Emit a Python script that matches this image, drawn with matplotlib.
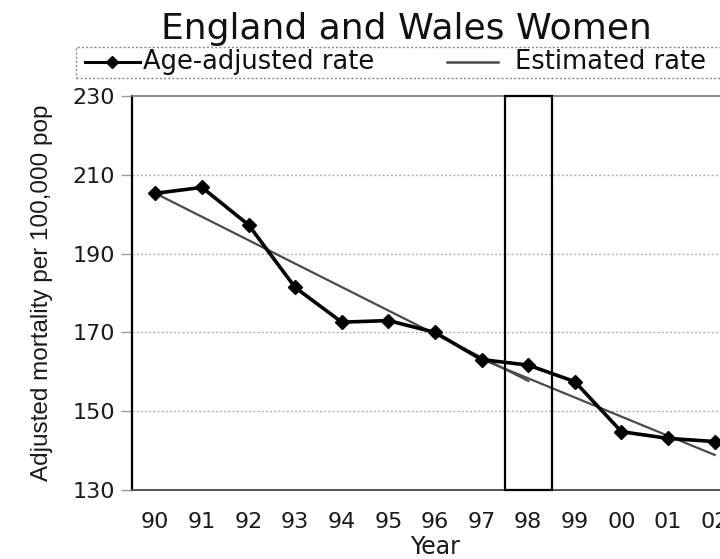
import matplotlib
matplotlib.use("Agg")
import matplotlib.pyplot as plt
from matplotlib.lines import Line2D
from matplotlib.patches import Rectangle

# Data
years = ["90", "91", "92", "93", "94", "95", "96", "97", "98", "99", "00", "01", "02"]
age_adjusted = [205.3, 206.8, 197.3, 181.4, 172.6, 173.0, 170.0, 163.1, 161.7, 157.5, 144.8, 143.1, 142.3]

# Fitted trend segments: (start index, end index) and their end values
trend_pre_idx = [0, 8]
trend_pre_val = [205.3, 157.7]
trend_post_idx = [7, 12]
trend_post_val = [163.2, 138.9]

# Highlighted year band (category index range)
band_idx = [7.5, 8.5]

y_ticks = [130, 150, 170, 190, 210, 230]

W, H = 720, 559
fig = plt.figure(figsize=(W / 100, H / 100), dpi=100)
fig.patch.set_facecolor("white")

ax = fig.add_axes([132 / W, (H - 490) / H, (738 - 132) / W, (490 - 96) / H])
x = list(range(len(years)))

# Trend lines
ax.plot(trend_pre_idx, trend_pre_val, color="#4a4a4a", lw=1.6, zorder=3)
ax.plot(trend_post_idx, trend_post_val, color="#4a4a4a", lw=1.6, zorder=3)

# Observed age-adjusted rate
ax.plot(x, age_adjusted, color="black", lw=2.6, marker="D", markersize=7.5,
        markerfacecolor="black", markeredgecolor="black", zorder=4)

# Highlight box around 1998
ax.add_patch(Rectangle((band_idx[0], 130), band_idx[1] - band_idx[0], 100,
                       fill=False, edgecolor="black", lw=1.6, zorder=5,
                       clip_on=False))

ax.set_xlim(-0.5, len(years) - 0.5)
ax.set_ylim(130, 230)
ax.set_yticks(y_ticks)
ax.set_xticks(x)
ax.set_xticklabels(years)

for lab in ax.get_xticklabels() + ax.get_yticklabels():
    lab.set_fontfamily("DejaVu Sans")
    lab.set_fontsize(16)
    lab.set_color("#1a1a1a")

ax.tick_params(axis="x", length=0, pad=16)
ax.tick_params(axis="y", length=8, width=1, color="#999999", pad=4)

# Gridlines
for yv in y_ticks[1:-1]:
    ax.axhline(yv, color="#b0b0b0", lw=1.0, ls=(0, (1.5, 1.5)), zorder=1)

# Spines
ax.spines["left"].set_linewidth(1.6)
ax.spines["left"].set_color("black")
ax.spines["bottom"].set_linewidth(1.4)
ax.spines["bottom"].set_color("#555555")
ax.spines["bottom"].set_linestyle((0, (2, 1)))
ax.spines["top"].set_linewidth(1.2)
ax.spines["top"].set_color("#777777")
ax.spines["top"].set_linestyle((0, (1.5, 1)))
ax.spines["right"].set_visible(False)

ax.set_xlabel("Year", family="DejaVu Sans", fontsize=17, color="#1a1a1a", labelpad=2)
ax.set_ylabel("Adjusted mortality per 100,000 pop",
              family=["Liberation Sans", "DejaVu Sans"],
              fontsize=17.5, color="#1a1a1a", labelpad=14)

# Title
fig.text(406 / W, 1 - 29 / H, "England and Wales Women", ha="center", va="center",
         family="DejaVu Sans", fontsize=26, color="#111111")

# Legend box (drawn in figure pixels)
fig.add_artist(Rectangle((76 / W, 1 - 78 / H), (760 - 76) / W, 31 / H,
                         transform=fig.transFigure, fill=False,
                         edgecolor="#888888", lw=1.0, ls=(0, (1.5, 1.5))))
fig.add_artist(Line2D([85 / W, 140 / W], [1 - 62 / H, 1 - 62 / H],
                      transform=fig.transFigure, color="black", lw=2.2))
fig.add_artist(Line2D([112 / W], [1 - 62 / H], transform=fig.transFigure,
                      color="black", marker="D", markersize=6, lw=0))
fig.text(143 / W, 1 - 62 / H, "Age-adjusted rate", ha="left", va="center",
         family="DejaVu Sans", fontsize=18.5, color="#111111")
fig.add_artist(Line2D([447 / W, 498 / W], [1 - 62 / H, 1 - 62 / H],
                      transform=fig.transFigure, color="#4a4a4a", lw=1.8))
fig.text(515 / W, 1 - 62 / H, "Estimated rate", ha="left", va="center",
         family="DejaVu Sans", fontsize=18.5, color="#111111")

fig.savefig("out.png", dpi=100)
